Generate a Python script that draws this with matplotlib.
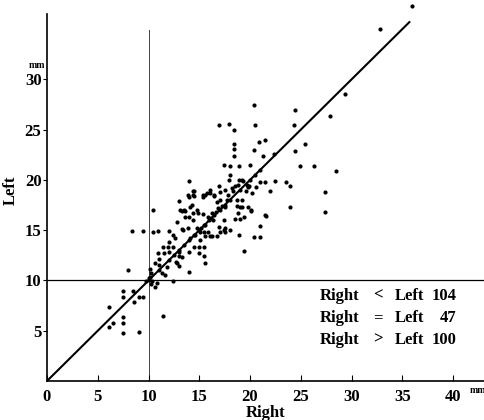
import matplotlib
matplotlib.use("Agg")
import matplotlib.pyplot as plt

# === Data: Messwerte rechts / links (mm) ===
right_mm = [
    36.0, 32.8, 29.4, 27.9, 25.4, 24.9, 26.3, 28.5, 27.4, 27.4,
    20.4, 16.9, 17.9, 18.4, 20.5, 24.4, 24.3,
    18.4, 18.4, 18.4, 20.9, 21.5, 20.4, 21.3, 22.4, 24.4,
    17.4, 18.0, 18.9, 20.0,
    18.0, 17.9, 18.9, 19.3, 21.0, 21.5, 22.5, 23.5, 23.9, 22.0,
    16.9, 16.1, 15.6, 14.0, 13.0, 14.0, 14.5, 15.4, 15.8, 17.5,
    14.5, 16.5,
    23.9, 21.5, 20.1, 19.4, 21.0, 18.9, 20.4, 21.0, 19.4, 19.0, 18.5, 19.0, 19.2, 18.7, 18.3,
    17.4, 16.7, 16.1, 15.6, 15.5,
    13.1, 13.5, 14.1, 14.4, 14.9, 15.4, 10.4,
    8.4, 9.5, 10.4, 10.9, 12.0, 12.4, 12.6, 13.4, 13.3, 13.9,
    12.0, 11.4, 11.9, 12.4, 10.9, 11.5, 12.0, 11.0, 10.6, 11.0, 11.8, 12.7, 13.0, 13.3,
    12.8, 13.0, 14.0, 12.4, 14.0, 14.5, 15.0, 15.5, 15.0, 15.5, 15.6, 13.0, 11.3, 11.6,
    10.1, 10.2, 10.1, 10.2, 10.6, 8.0,
    14.4, 13.6, 14.0, 12.8, 14.8, 15.1, 14.6, 14.1, 15.1, 15.6, 15.9, 16.3, 16.6, 16.8,
    17.2, 17.5, 17.7, 17.0, 16.7, 16.4, 16.9, 15.9, 16.3, 14.8,
    17.8, 18.2, 18.5, 18.8, 19.2, 19.7, 19.8, 20.2, 19.2, 18.7, 19.8, 18.8,
    7.5, 8.5, 7.5, 8.6, 9.1, 9.5, 6.1, 7.5, 7.5, 6.5, 6.1, 7.5, 9.1, 11.4,
    10.8, 10.3, 10.0, 9.8, 10.0,
    21.6, 20.1, 18.0, 17.5, 17.5, 17.0, 17.4, 19.9, 20.6, 19.6,
    13.3, 13.6, 13.9, 14.4, 14.4, 15.4, 16.1, 16.5, 17.0, 14.3,
    11.0, 12.0, 12.5, 13.0, 13.5, 14.0, 14.5, 15.0, 15.5, 16.0,
    16.5, 17.0, 17.5, 18.0, 19.0, 20.0, 20.5, 21.0, 15.2, 16.2,
]
left_mm = [
    37.3, 35.0, 28.5, 26.4, 23.6, 21.4, 21.4, 20.9, 18.8, 16.8,
    27.5, 25.5, 25.6, 25.0, 25.5, 27.0, 25.5,
    23.6, 23.1, 22.4, 23.8, 24.0, 23.0, 22.4, 22.6, 22.9,
    21.5, 21.4, 21.4, 21.5,
    20.5, 20.0, 20.0, 19.9, 19.8, 19.8, 19.9, 19.8, 19.4, 18.9,
    19.4, 19.0, 18.5, 19.9, 17.9, 18.3, 18.4, 18.3, 18.7, 19.0,
    18.9, 18.4,
    17.3, 16.5, 17.0, 16.3, 15.4, 14.5, 14.3, 14.3, 12.9, 16.1, 16.1, 17.3, 17.3, 18.0, 18.9,
    15.0, 14.4, 14.4, 14.4, 14.8,
    17.0, 17.0, 17.3, 16.7, 16.7, 16.6, 17.0,
    14.9, 14.9, 14.8, 14.9, 14.9, 14.5, 14.2, 15.0, 15.1, 15.2,
    13.8, 13.3, 13.3, 13.3, 12.7, 12.7, 12.8, 12.1, 11.7, 11.5, 11.3, 11.8, 12.4, 12.3,
    11.7, 11.4, 10.8, 9.9, 12.8, 13.3, 13.3, 13.3, 12.7, 12.4, 11.7, 12.8, 10.7, 10.5,
    11.1, 10.7, 10.3, 9.6, 9.4, 11.0,
    16.0, 16.3, 16.3, 15.8, 15.2, 14.8, 14.5, 14.2, 14.0, 15.5, 16.3, 16.7, 16.8, 17.2,
    17.4, 17.3, 18.0, 18.0, 17.8, 16.0, 15.3, 14.8, 14.4, 17.0,
    18.5, 19.2, 19.4, 19.5, 20.0, 19.5, 19.3, 18.7, 18.0, 17.4, 17.3, 16.7,
    9.0, 9.0, 8.4, 7.9, 8.4, 8.4, 7.4, 6.4, 5.8, 5.8, 5.4, 4.8, 4.9, 6.5,
    9.7, 9.9, 10.0, 9.9, 10.2,
    16.4, 16.9, 15.0, 14.8, 15.2, 14.8, 16.0, 19.4, 19.3, 18.9,
    16.9, 16.9, 18.5, 18.5, 18.9, 18.5, 18.7, 18.5, 18.8, 17.5,
    11.0, 12.0, 12.5, 13.0, 13.5, 14.0, 14.5, 15.0, 15.5, 16.0,
    16.5, 17.0, 17.5, 18.0, 19.0, 20.0, 20.5, 21.0, 15.2, 16.2,
]

summary_rel = ["<", "=", ">"]
summary_cnt = [104, 47, 100]

x_ticks = [0, 5, 10, 15, 20, 25, 30, 35, 40]
y_ticks = [5, 10, 15, 20, 25, 30]

# === Plot ===
font = "Liberation Serif"
fig = plt.figure(figsize=(4.85, 4.20), dpi=100)
ax = fig.add_axes([47 / 485, 39 / 420, 438 / 485, 381 / 420])
ax.set_xlim(0, 43.15)
ax.set_ylim(0, 37.9)

# Punkte
ax.scatter(right_mm, left_mm, s=9, color="black", linewidths=0, zorder=3)

# Gleichheitslinie und Hilfslinien bei 10 mm
ax.plot([0, 35.7], [0, 35.7], color="black", lw=1.5, zorder=2)
ax.plot([10, 10], [0, 34.9], color="#444444", lw=0.7, zorder=1)
ax.plot([0, 43.15], [10, 10], color="black", lw=0.9, zorder=1)

# Achsen
for s in ["top", "right"]:
    ax.spines[s].set_visible(False)
ax.spines["left"].set_bounds(0, 36.5)
ax.spines["left"].set_linewidth(1.2)
ax.spines["bottom"].set_linewidth(1.2)

ax.set_xticks(x_ticks)
ax.set_yticks(y_ticks)
ax.tick_params(axis="x", direction="in", length=4, pad=6)
ax.tick_params(axis="y", direction="out", length=3, pad=1)
for lab in ax.get_xticklabels() + ax.get_yticklabels():
    lab.set_family(font)
    lab.set_fontweight("bold")
    lab.set_fontsize(12)

ax.set_xlabel("Right", family=font, fontweight="bold", fontsize=12, labelpad=0)
ax.set_ylabel("Left", family=font, fontweight="bold", fontsize=12, labelpad=4)

# Einheiten
ax.text(41.6, -0.95, "mm", family=font, fontsize=7, fontweight="bold",
        ha="left", va="center", clip_on=False)
ax.text(-0.2, 31.4, "mm", family=font, fontsize=7, fontweight="bold",
        ha="right", va="center", clip_on=False)

# Zusammenfassung
ys = [8.5, 6.3, 4.1]
for y, rel, cnt in zip(ys, summary_rel, summary_cnt):
    kw = dict(family=font, fontweight="bold", fontsize=12, va="center")
    ax.text(26.9, y, "Right", ha="left", **kw)
    ax.text(32.6, y, rel, ha="center", **kw)
    ax.text(34.3, y, "Left", ha="left", **kw)
    ax.text(40.3, y, str(cnt), ha="right", **kw)

fig.savefig("out.png", dpi=100)
